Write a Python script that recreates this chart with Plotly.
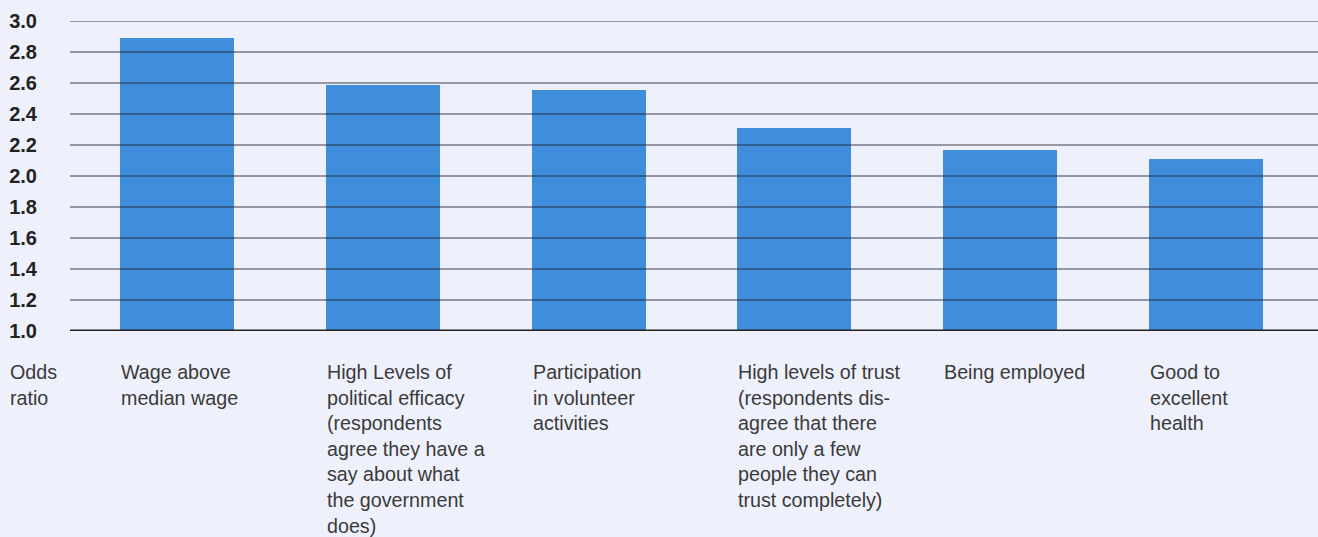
import plotly.graph_objects as go

categories = [
    "Wage above<br>median wage",
    "High Levels of<br>political efficacy<br>(respondents<br>agree they have a<br>say about what<br>the government<br>does)",
    "Participation<br>in volunteer<br>activities",
    "High levels of trust<br>(respondents dis-<br>agree that there<br>are only a few<br>people they can<br>trust completely)",
    "Being employed",
    "Good to<br>excellent<br>health",
]
odds_ratio = [2.89, 2.59, 2.555, 2.31, 2.17, 2.11]
y_ticks = [1.0, 1.2, 1.4, 1.6, 1.8, 2.0, 2.2, 2.4, 2.6, 2.8, 3.0]
y_tick_labels = ["1.0", "1.2", "1.4", "1.6", "1.8", "2.0", "2.2", "2.4", "2.6", "2.8", "3.0"]
axis_label = "Odds<br>ratio"

BG = "#EEF0FB"
BAR = "#3F8EDB"
BASE = 1.0
WIDTH = 0.554
FONT = "Liberation Sans, Arial, sans-serif"

xs = list(range(len(categories)))
fig = go.Figure()
fig.add_trace(go.Bar(
    x=xs, y=[v - BASE for v in odds_ratio], base=BASE,
    width=WIDTH, marker=dict(color=BAR, line=dict(width=0)),
    hoverinfo="skip",
))

shapes = []
for t in y_ticks[1:]:
    shapes.append(dict(type="line", xref="paper", yref="y", x0=0, x1=1, y0=t, y1=t,
                       line=dict(color="rgba(30,30,40,0.85)", width=1), layer="above"))
shapes.append(dict(type="line", xref="paper", yref="y", x0=0, x1=1, y0=BASE, y1=BASE,
                   line=dict(color="#222222", width=3), layer="above"))

annotations = []
for i, c in enumerate(categories):
    annotations.append(dict(x=i - WIDTH / 2, y=0, xref="x", yref="paper", text=c,
                            showarrow=False, xanchor="left", yanchor="top", align="left",
                            yshift=-28, xshift=-1,
                            font=dict(family=FONT, size=19.7, color="#3a3a3a")))
annotations.append(dict(x=0, y=0, xref="paper", yref="paper", text=axis_label,
                        showarrow=False, xanchor="left", yanchor="top", align="left",
                        yshift=-28, xshift=-62,
                        font=dict(family=FONT, size=19.7, color="#3a3a3a")))

fig.update_layout(
    width=1318, height=537,
    margin=dict(l=70, r=0, t=21, b=206),
    paper_bgcolor=BG, plot_bgcolor=BG,
    showlegend=False,
    bargap=0,
    shapes=shapes,
    annotations=annotations,
    xaxis=dict(range=[-0.52, 5.544], showticklabels=False, showgrid=False, zeroline=False,
               showline=False, ticks=""),
    yaxis=dict(range=[BASE, 3.0], tickvals=y_ticks, ticktext=y_tick_labels, showgrid=False,
               zeroline=False, showline=False, ticks="", ticklabelstandoff=32,
               tickfont=dict(family=FONT, size=20, color="#222222", weight="bold")),
)
fig.write_html("out.html", config={"displayModeBar": False},
               post_script="document.body.style.margin='0';document.body.style.background='" + BG + "';")
